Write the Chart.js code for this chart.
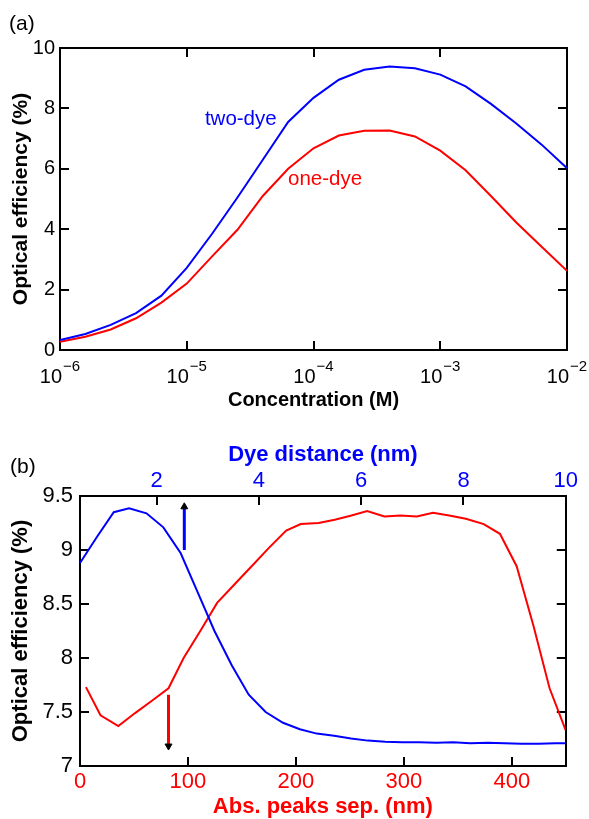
<!DOCTYPE html>
<html>
<head>
<meta charset="utf-8">
<script src="https://cdn.jsdelivr.net/npm/chart.js@4.4.1/dist/chart.umd.min.js"></script>
<style>
  html, body { margin: 0; padding: 0; background: #fff; }
  #wrap { position: relative; width: 589px; height: 819px; font-family: "Liberation Sans", Arial, sans-serif; }
  .panel { position: absolute; left: 0; width: 589px; }
  .tag { position: absolute; font-size: 21px; line-height: 24px; color: #000; }
</style>
</head>
<body>
<div id="wrap">
  <div class="panel" style="top:0;height:420px"><canvas id="chartA"></canvas></div>
  <div class="panel" style="top:420px;height:399px"><canvas id="chartB"></canvas></div>
  <div class="tag" style="left:9px;top:11px">(a)</div>
  <div class="tag" style="left:10px;top:454px">(b)</div>
</div>
<script>
// (a) efficiency vs concentration
const concentration = [1e-6, 1.585e-6, 2.512e-6, 3.981e-6, 6.310e-6,
                       1e-5, 1.585e-5, 2.512e-5, 3.981e-5, 6.310e-5,
                       1e-4, 1.585e-4, 2.512e-4, 3.981e-4, 6.310e-4,
                       1e-3, 1.585e-3, 2.512e-3, 3.981e-3, 6.310e-3, 1e-2];
const twoDye = [0.33, 0.53, 0.83, 1.22, 1.80, 2.72, 3.85, 5.05, 6.30, 7.55,
                8.35, 8.95, 9.28, 9.39, 9.33, 9.12, 8.73, 8.15, 7.50, 6.80, 6.02];
const oneDye = [0.27, 0.44, 0.68, 1.05, 1.57, 2.20, 3.10, 3.98, 5.10, 6.00,
                6.68, 7.10, 7.26, 7.27, 7.07, 6.60, 5.95, 5.10, 4.22, 3.42, 2.62];
const concTicks = [1e-6, 1e-5, 1e-4, 1e-3, 1e-2];
const effTicksA = [0, 2, 4, 6, 8, 10];
const noteTexts = ['two-dye', 'one-dye'];
const noteAt = [1.39e-5, 6.3e-5];
const noteVal = [7.45, 5.46];
const noteColors = ['#0000ff', '#ff0000'];

// (b) efficiency vs dye distance (blue, top axis) and peak separation (red, bottom axis)
const dyeDistance = [0.5, 0.83, 1.16, 1.46, 1.8, 2.13, 2.47, 2.8, 3.13, 3.47,
                     3.8, 4.13, 4.47, 4.8, 5.13, 5.47, 5.8, 6.13, 6.47, 6.8,
                     7.13, 7.47, 7.8, 8.13, 8.47, 8.8, 9.13, 9.47, 9.8, 10];
const effDistance = [8.88, 9.12, 9.35, 9.386, 9.34, 9.21, 8.97, 8.61, 8.25, 7.93,
                     7.66, 7.50, 7.40, 7.34, 7.30, 7.28, 7.255, 7.235, 7.225, 7.22,
                     7.22, 7.215, 7.22, 7.21, 7.215, 7.21, 7.205, 7.205, 7.21, 7.21];
const peakSep = [5.5, 19, 35.5, 51, 66, 82, 96, 112, 127, 143,
                 159, 175, 191, 204.5, 221, 236, 251.5, 266, 282, 297,
                 312, 327, 342, 357.5, 374, 389, 404.5, 420, 435, 450];
const effPeakSep = [7.73, 7.47, 7.37, 7.49, 7.60, 7.72, 8.00, 8.26, 8.51, 8.68,
                    8.85, 9.02, 9.18, 9.24, 9.25, 9.28, 9.32, 9.36, 9.31, 9.32,
                    9.31, 9.345, 9.32, 9.29, 9.24, 9.15, 8.85, 8.30, 7.72, 7.33];
const sepTicks = [0, 100, 200, 300, 400];
const distTicks = [2, 4, 6, 8, 10];
const effTicksB = [7, 7.5, 8, 8.5, 9, 9.5];
const arrowDye = 2.54, blueArrowY = [9.0, 9.40];
const arrowSep = 82, redArrowY = [7.66, 7.185];

const FONT = '"Liberation Sans", Arial, Helvetica, sans-serif';
Chart.defaults.font.family = FONT;
Chart.defaults.color = '#000';

const pts = (xs, ys) => xs.map((x, i) => ({ x: x, y: ys[i] }));
const setTicks = arr => s => { s.ticks = arr.map(v => ({ value: v })); };
const border = { display: true, color: '#000', width: 2 };
const inGrid = { drawOnChartArea: false, drawTicks: true, tickLength: -9, color: '#000', lineWidth: 2 };

// 10^n labels drawn under the log axis
const powerLabels = {
    id: 'powerLabels',
    afterDraw(chart) {
        const s = chart.scales.x;
        const ctx = chart.ctx;
        ctx.save();
        ctx.fillStyle = '#000';
        ctx.textAlign = 'left';
        ctx.textBaseline = 'alphabetic';
        s.ticks.forEach(t => {
            const px = s.getPixelForValue(t.value);
            const e = Math.round(Math.log10(t.value));
            const exp = (e < 0 ? '\u2212' : '') + Math.abs(e);
            ctx.font = '20px ' + FONT;
            const wb = ctx.measureText('10').width;
            ctx.font = '15px ' + FONT;
            const we = ctx.measureText(exp).width;
            const x0 = px - (wb + 1 + we) / 2;
            ctx.font = '20px ' + FONT;
            ctx.fillText('10', x0, s.top + 33);
            ctx.font = '15px ' + FONT;
            ctx.fillText(exp, x0 + wb + 1, s.top + 21);
        });
        ctx.restore();
    }
};

const curveNotes = {
    id: 'curveNotes',
    afterDatasetsDraw(chart) {
        const { x, y } = chart.scales;
        const ctx = chart.ctx;
        ctx.save();
        ctx.font = '20.5px ' + FONT;
        ctx.textAlign = 'left';
        ctx.textBaseline = 'alphabetic';
        noteTexts.forEach((txt, i) => {
            ctx.fillStyle = noteColors[i];
            ctx.fillText(txt, x.getPixelForValue(noteAt[i]), y.getPixelForValue(noteVal[i]));
        });
        ctx.restore();
    }
};

new Chart(document.getElementById('chartA'), {
    type: 'line',
    data: {
        datasets: [
            { label: 'two-dye', data: pts(concentration, twoDye), borderColor: '#0000ff', borderWidth: 2, pointRadius: 0, tension: 0 },
            { label: 'one-dye', data: pts(concentration, oneDye), borderColor: '#ff0000', borderWidth: 2, pointRadius: 0, tension: 0 }
        ]
    },
    options: {
        responsive: true,
        maintainAspectRatio: false,
        animation: false,
        layout: { padding: 0 },
        plugins: { legend: { display: false }, tooltip: { enabled: false } },
        scales: {
            x: {
                type: 'logarithmic', position: 'bottom', min: 1e-6, max: 1e-2,
                border: border, grid: inGrid,
                ticks: { display: false },
                afterBuildTicks: setTicks(concTicks),
                afterFit: s => { s.height = 70; },
                title: { display: true, text: 'Concentration (M)', color: '#000',
                         font: { size: 20, weight: 'bold' }, padding: { top: 0, bottom: 8 } }
            },
            x2: {
                type: 'logarithmic', position: 'top', min: 1e-6, max: 1e-2,
                border: border, grid: inGrid,
                ticks: { display: false },
                afterBuildTicks: setTicks(concTicks),
                afterFit: s => { s.height = 48; }
            },
            y: {
                type: 'linear', position: 'left', min: 0, max: 10,
                border: border, grid: inGrid,
                ticks: { padding: 14, color: '#000', font: { size: 20 }, callback: v => String(v) },
                afterBuildTicks: setTicks(effTicksA),
                afterFit: s => { s.width = 60; },
                title: { display: true, text: 'Optical efficiency (%)', color: '#000',
                         font: { size: 21, weight: 'bold' }, padding: { top: 9, bottom: 0 } }
            },
            y2: {
                type: 'linear', position: 'right', min: 0, max: 10,
                border: border, grid: inGrid,
                ticks: { display: false },
                afterBuildTicks: setTicks(effTicksA),
                afterFit: s => { s.width = 22; }
            }
        }
    },
    plugins: [powerLabels, curveNotes]
});

new Chart(document.getElementById('chartB'), {
    type: 'line',
    data: {
        datasets: [
            { label: 'dye distance', data: pts(dyeDistance, effDistance), xAxisID: 'x2', yAxisID: 'y',
              borderColor: '#0000ff', borderWidth: 2, pointRadius: 0, tension: 0 },
            { label: 'peak separation', data: pts(peakSep, effPeakSep), xAxisID: 'x', yAxisID: 'y',
              borderColor: '#ff0000', borderWidth: 2, pointRadius: 0, tension: 0 },
            { label: 'blue arrow', data: [{ x: arrowDye, y: blueArrowY[0] }, { x: arrowDye, y: blueArrowY[1] }],
              xAxisID: 'x2', yAxisID: 'y', borderColor: '#0000ff', borderWidth: 3,
              pointRadius: [0, 4], pointStyle: 'triangle', pointRotation: 0,
              pointBackgroundColor: '#000', pointBorderColor: '#000', pointBorderWidth: 1 },
            { label: 'red arrow', data: [{ x: arrowSep, y: redArrowY[0] }, { x: arrowSep, y: redArrowY[1] }],
              xAxisID: 'x', yAxisID: 'y', borderColor: '#ff0000', borderWidth: 3,
              pointRadius: [0, 4], pointStyle: 'triangle', pointRotation: 180,
              pointBackgroundColor: '#000', pointBorderColor: '#000', pointBorderWidth: 1 }
        ]
    },
    options: {
        responsive: true,
        maintainAspectRatio: false,
        animation: false,
        layout: { padding: 0 },
        plugins: { legend: { display: false }, tooltip: { enabled: false } },
        scales: {
            x: {
                type: 'linear', position: 'bottom', min: 0, max: 450,
                border: border, grid: inGrid,
                ticks: { padding: 12, color: '#ff0000', font: { size: 22 }, callback: v => String(v) },
                afterBuildTicks: setTicks(sepTicks),
                afterFit: s => { s.height = 53; },
                title: { display: true, text: 'Abs. peaks sep. (nm)', color: '#ff0000',
                         font: { size: 22, weight: 'bold' }, padding: { top: 0, bottom: -1 } }
            },
            x2: {
                type: 'linear', position: 'top', min: 0.5, max: 10,
                border: border, grid: inGrid,
                ticks: { padding: 11, color: '#0000ff', font: { size: 22 }, callback: v => String(v) },
                afterBuildTicks: setTicks(distTicks),
                afterFit: s => { s.height = 76; },
                title: { display: true, text: 'Dye distance (nm)', color: '#0000ff',
                         font: { size: 22, weight: 'bold' }, padding: { top: 22, bottom: 0 } }
            },
            y: {
                type: 'linear', position: 'left', min: 7, max: 9.5,
                border: border, grid: inGrid,
                ticks: { padding: 16, color: '#000', font: { size: 22 }, callback: v => String(v) },
                afterBuildTicks: setTicks(effTicksB),
                afterFit: s => { s.width = 80; },
                title: { display: true, text: 'Optical efficiency (%)', color: '#000',
                         font: { size: 22, weight: 'bold' }, padding: { top: 8, bottom: 0 } }
            },
            y2: {
                type: 'linear', position: 'right', min: 7, max: 9.5,
                border: border, grid: inGrid,
                ticks: { display: false },
                afterBuildTicks: setTicks(effTicksB),
                afterFit: s => { s.width = 13; }
            }
        }
    }
});
</script>
</body>
</html>
